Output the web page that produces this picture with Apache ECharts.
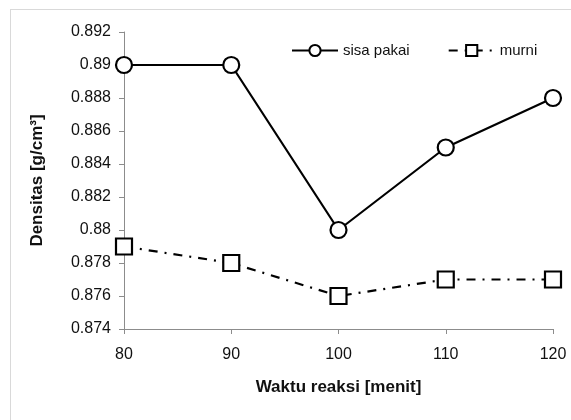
<!DOCTYPE html>
<html>
<head>
<meta charset="utf-8">
<script src="https://cdn.jsdelivr.net/npm/echarts@6/dist/echarts.min.js"></script>
<style>
  html, body { margin: 0; padding: 0; background: #fff; }
  #frame { position: absolute; left: 10px; top: 9px; width: 600px; height: 450px;
           border-left: 1px solid #d9d9d9; border-top: 1px solid #d9d9d9; }
  #chart { position: absolute; left: 0; top: 0; width: 571px; height: 420px; }
</style>
</head>
<body>
<div id="frame"></div>
<div id="chart"></div>
<script>
const waktu = [80, 90, 100, 110, 120] // menit
const sisaPakai = [0.89, 0.89, 0.88, 0.885, 0.888]
const murni = [0.879, 0.878, 0.876, 0.877, 0.877]
const yTicks = { min: 0.874, max: 0.892, step: 0.002 }

const fontFam = 'Liberation Sans, sans-serif'
const toPairs = (ys) => waktu.map((x, i) => [x, ys[i]])

const chart = echarts.init(document.getElementById('chart'))

const option = {
  backgroundColor: 'transparent',
  animation: false,
  grid: { left: 124, right: 18, top: 32, bottom: 91 },
  legend: {
    left: 286,
    top: 38,
    itemWidth: 46,
    itemHeight: 14,
    itemGap: 38,
    textStyle: { fontFamily: fontFam, fontSize: 15, color: '#111' },
    data: ['sisa pakai', 'murni'],
  },
  xAxis: {
    type: 'value',
    min: 80,
    max: 120,
    interval: 10,
    name: 'Waktu reaksi [menit]',
    nameLocation: 'middle',
    nameGap: 50,
    nameTextStyle: { fontFamily: fontFam, fontSize: 17, fontWeight: 'bold', color: '#111' },
    axisLine: { lineStyle: { color: '#8c8c8c', width: 1 } },
    axisTick: { show: true, length: 5, lineStyle: { color: '#8c8c8c' } },
    axisLabel: { fontFamily: fontFam, fontSize: 16, color: '#111', margin: 18 },
    splitLine: { show: false },
  },
  yAxis: {
    type: 'value',
    min: yTicks.min,
    max: yTicks.max,
    interval: yTicks.step,
    name: 'Densitas [g/cm³]',
    nameLocation: 'middle',
    nameGap: 78,
    nameTextStyle: { fontFamily: fontFam, fontSize: 17, fontWeight: 'bold', color: '#111' },
    axisLine: { show: true, lineStyle: { color: '#8c8c8c', width: 1 } },
    axisTick: { show: true, length: 5, lineStyle: { color: '#8c8c8c' } },
    axisLabel: {
      fontFamily: fontFam, fontSize: 16, color: '#111', margin: 13,
      formatter: (v) => String(+v.toFixed(3)),
    },
    splitLine: { show: false },
  },
  series: [
    {
      name: 'sisa pakai',
      type: 'line',
      data: toPairs(sisaPakai),
      symbol: 'circle',
      symbolSize: 16,
      lineStyle: { color: '#000', width: 2.2 },
      itemStyle: { color: '#fff', borderColor: '#000', borderWidth: 2.2 },
    },
    {
      name: 'murni',
      type: 'line',
      data: toPairs(murni),
      symbol: 'rect',
      symbolSize: 16,
      lineStyle: { color: '#000', width: 2.2, type: [9, 7, 2, 7] },
      itemStyle: { color: '#fff', borderColor: '#000', borderWidth: 2.2 },
    },
  ],
}

chart.setOption(option)
</script>
</body>
</html>
